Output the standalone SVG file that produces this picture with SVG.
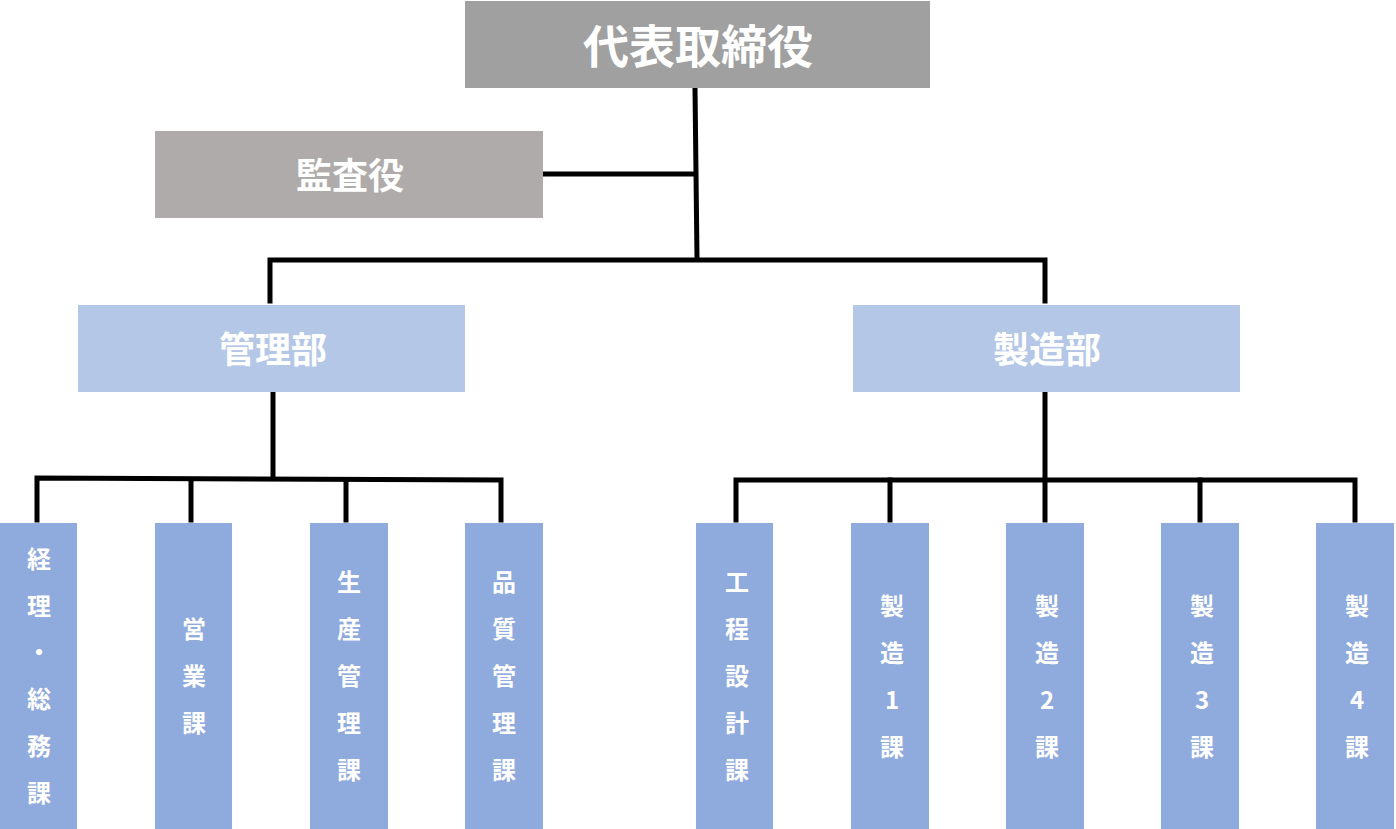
<svg xmlns="http://www.w3.org/2000/svg" width="1396" height="829" viewBox="0 0 1396 829">
<style>
.t{font-family:"Noto Sans CJK JP","Noto Sans",sans-serif;font-weight:bold;fill:#fff;text-anchor:middle;dominant-baseline:central}
.big{font-size:46px}
.mid{font-size:36px}
.sm{font-size:24px}
.ln{stroke:#000;stroke-width:5;fill:none;stroke-linecap:square}
</style>
<rect width="1396" height="829" fill="#fff"/>
<g id="connectors">
<path class="ln" d="M695 88 L697 258"/>
<path class="ln" d="M543 174 L695 174"/>
<path class="ln" d="M270 301 L270 260 L1045 260 L1045 301"/>
<path class="ln" d="M273 394 L273 476"/>
<path class="ln" d="M37 520 L37 478 L501 480 L501 520"/>
<path class="ln" d="M191 480 L191 520"/>
<path class="ln" d="M346 480 L346 520"/>
<path class="ln" d="M1045 394 L1045 520"/>
<path class="ln" d="M736 520 L736 480 L1355 480 L1355 520"/>
<path class="ln" d="M890 480 L890 520"/>
<path class="ln" d="M1200 480 L1200 520"/>
</g>
<g id="ceo"><rect x="465" y="1" width="465" height="87" fill="#a0a0a0"/><text class="t big" x="698" y="43">代表取締役</text></g>
<g id="auditor"><rect x="155" y="131" width="388" height="87" fill="#aeabaa"/><text class="t mid" x="350" y="173">監査役</text></g>
<g id="kanri"><rect x="78" y="305" width="387" height="87" fill="#b4c7e7"/><text class="t mid" x="273" y="347">管理部</text></g>
<g id="seizo"><rect x="853" y="305" width="387" height="87" fill="#b4c7e7"/><text class="t mid" x="1047" y="347">製造部</text></g>
<g id="keiri"><rect x="0" y="523" width="77" height="306" fill="#8faadc"/><text class="t sm"><tspan x="39" y="557">経</tspan><tspan x="39" y="604">理</tspan><tspan x="39" y="650">・</tspan><tspan x="39" y="697">総</tspan><tspan x="39" y="744">務</tspan><tspan x="39" y="791">課</tspan></text></g>
<g id="eigyo"><rect x="155" y="523" width="77" height="306" fill="#8faadc"/><text class="t sm"><tspan x="194" y="627">営</tspan><tspan x="194" y="674">業</tspan><tspan x="194" y="721">課</tspan></text></g>
<g id="seisan"><rect x="310" y="523" width="78" height="306" fill="#8faadc"/><text class="t sm"><tspan x="349" y="580">生</tspan><tspan x="349" y="627">産</tspan><tspan x="349" y="674">管</tspan><tspan x="349" y="721">理</tspan><tspan x="349" y="768">課</tspan></text></g>
<g id="hinshitsu"><rect x="465" y="523" width="78" height="306" fill="#8faadc"/><text class="t sm"><tspan x="504" y="580">品</tspan><tspan x="504" y="627">質</tspan><tspan x="504" y="674">管</tspan><tspan x="504" y="721">理</tspan><tspan x="504" y="768">課</tspan></text></g>
<g id="kotei"><rect x="696" y="523" width="77" height="306" fill="#8faadc"/><text class="t sm"><tspan x="737" y="580">工</tspan><tspan x="737" y="627">程</tspan><tspan x="737" y="674">設</tspan><tspan x="737" y="721">計</tspan><tspan x="737" y="768">課</tspan></text></g>
<g id="seizo1"><rect x="851" y="523" width="78" height="306" fill="#8faadc"/><text class="t sm"><tspan x="892" y="604">製</tspan><tspan x="892" y="651">造</tspan><tspan x="892" y="698">1</tspan><tspan x="892" y="745">課</tspan></text></g>
<g id="seizo2"><rect x="1006" y="523" width="78" height="306" fill="#8faadc"/><text class="t sm"><tspan x="1047" y="604">製</tspan><tspan x="1047" y="651">造</tspan><tspan x="1047" y="698">2</tspan><tspan x="1047" y="745">課</tspan></text></g>
<g id="seizo3"><rect x="1161" y="523" width="78" height="306" fill="#8faadc"/><text class="t sm"><tspan x="1202" y="604">製</tspan><tspan x="1202" y="651">造</tspan><tspan x="1202" y="698">3</tspan><tspan x="1202" y="745">課</tspan></text></g>
<g id="seizo4"><rect x="1316" y="523" width="78" height="306" fill="#8faadc"/><text class="t sm"><tspan x="1357" y="604">製</tspan><tspan x="1357" y="651">造</tspan><tspan x="1357" y="698">4</tspan><tspan x="1357" y="745">課</tspan></text></g>
</svg>
